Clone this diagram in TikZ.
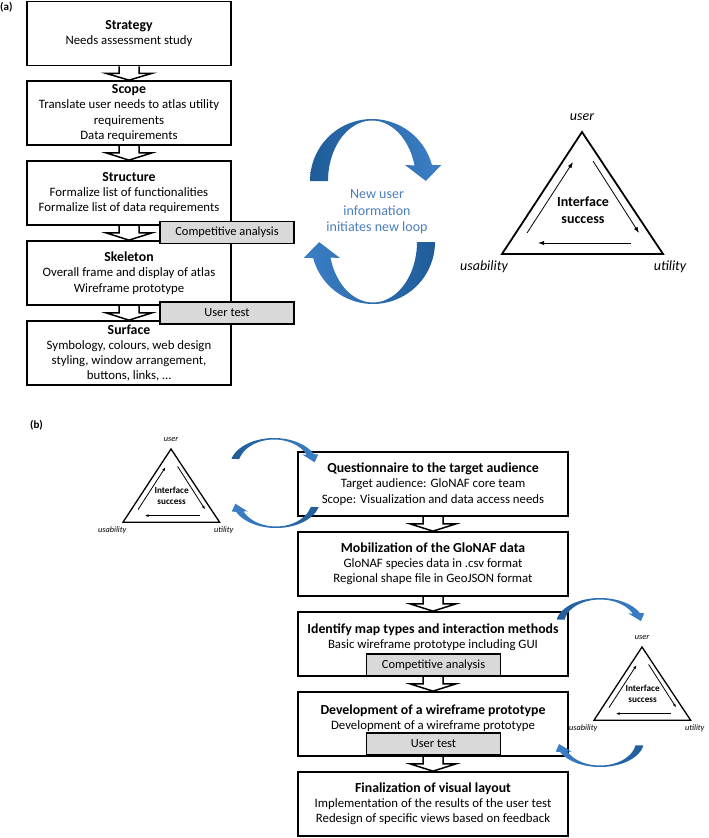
\documentclass[tikz,border=0pt]{standalone}
\usepackage{fontspec}
\setmainfont{Carlito}
\usetikzlibrary{arrows.meta,calc}
\definecolor{grayfill}{HTML}{D9D9D9}
\definecolor{loopblue}{HTML}{4A7EBB}
\definecolor{arrdark}{HTML}{1F5C99}
\definecolor{arrlight}{HTML}{3C7FC6}
\newcommand\boxtitle[1]{{\fontsize{13.8}{15.5}\selectfont\bfseries #1}}
% crescent arrow: cx, cy, rx, ry, thickness, start angle, end angle, head half width, head length
\newcommand\crescarrow[9]{%
 \pgfmathsetmacro\cAx{#1+(#3-#5/2)*cos(#7)}%
 \pgfmathsetmacro\cAy{#2+(#4-0.75)*sin(#7)}%
 \pgfmathsetmacro\cOx{#1+#3*cos(#7)}%
 \pgfmathsetmacro\cIx{#1+(#3-#5)*cos(#7)}%
 \pgfmathsetmacro\cQa{#7+8*sign(#7-#6)}%
 \pgfmathsetmacro\cQx{#1+(#3-#5/2)*cos(\cQa)}%
 \pgfmathsetmacro\cQy{#2+(#4-0.75)*sin(\cQa)}%
 \coordinate (cM) at (\cAx,\cAy);
 \coordinate (cO) at (\cOx,\cAy);
 \coordinate (cI) at (\cIx,\cAy);
 \coordinate (cQ) at (\cQx,\cQy);
 \path[arrowshade] plot[domain=#6:#7,samples=40] ({#1+#3*cos(\x)},{#2+#4*sin(\x)})
   -- ($(cM)!#8!(cO)$) -- ($(cM)!#9!(cQ)$) -- ($(cM)!#8!(cI)$)
   -- plot[domain=#7:#6,samples=40] ({#1+(#3-#5)*cos(\x)},{#2+(#4-1.5)*sin(\x)}) -- cycle;
}
% triangle: x, y (top vertex), scale, label font, centre font, prefix, tip length, line width
\newcommand\uitri[8]{%
 \begin{scope}[shift={(#1,#2)}, scale=#3]
  \coordinate (#6top) at (0,0);
  \coordinate (#6left) at (-80,122);
  \coordinate (#6right) at (81,122);
  \draw[line width=#8, line join=miter] (#6top) -- (#6left) -- (#6right) -- cycle;
  \coordinate (#6a1) at (-55,101); \coordinate (#6a2) at (-9,30);
  \coordinate (#6b1) at (11,29); \coordinate (#6b2) at (57,101);
  \coordinate (#6c1) at (49,111); \coordinate (#6c2) at (-44,111);
  \draw[line width=0.8pt, -{Latex[length=#7,width=0.7*#7]}] (#6a1) -- (#6a2);
  \draw[line width=0.8pt, -{Latex[length=#7,width=0.7*#7]}] (#6b1) -- (#6b2);
  \draw[line width=0.8pt, -{Latex[length=#7,width=0.7*#7]}] (#6c1) -- (#6c2);
  \node[font=#4] (#6user) at (0,-15) {user};
  \node[font=#4] (#6usab) at (-98,135) {usability};
  \node[font=#4] (#6util) at (88,135) {utility};
  \node[font=#5, align=center] (#6succ) at (1,78) {Interface\\success};
 \end{scope}}
\newcommand\blockarrow[2]{%
 \draw[line width=1.5pt, line join=miter] let \p1=(#1.south), \p2=(#2.north) in
  (\x1-10pt,\y1) -- (\x1-10pt,\y1-7pt) -- (\x1-23pt,\y1-7pt) -- (\x1,\y2)
  -- (\x1+23pt,\y1-7pt) -- (\x1+10pt,\y1-7pt) -- (\x1+10pt,\y1);}

\begin{document}
\begin{tikzpicture}[x=1pt,y=-1pt,
  box/.style={draw, line width=1.7pt, fill=white, align=center, inner sep=0pt, font=\fontsize{12.8}{15.2}\selectfont},
  abox/.style={box, minimum width=204pt, minimum height=64pt},
  bbox/.style={box, minimum width=270pt, minimum height=64pt},
  txt/.style={align=center, inner sep=0pt, font=\fontsize{12.8}{15.2}\selectfont},
  gbox/.style={draw, line width=1.6pt, fill=grayfill, inner sep=0pt, minimum width=134pt, minimum height=22pt, font=\fontsize{12.4}{13}\selectfont},
  arrowshade/.style={left color=arrdark, right color=arrlight}
 ]
\useasboundingbox (0,0) rectangle (709,838);

% ---------- (a) ----------
\node[font=\fontsize{11}{12}\selectfont\bfseries, anchor=west, inner sep=0pt] (labA) at (0,7) {(a)};
\node[abox] (strategy) at (129,33.5) {\boxtitle{Strategy}\\Needs assessment study};
\node[abox] (scope) at (129,113) {\boxtitle{Scope}\\Translate user needs to atlas utility\\requirements\\Data requirements};
\node[abox] (structure) at (129,193) {\boxtitle{Structure}\\Formalize list of functionalities\\Formalize list of data requirements};
\node[abox] (skeleton) at (129,273) {\boxtitle{Skeleton}\\Overall frame and display of atlas\\Wireframe prototype};
\node[abox] (surface) at (129,353) {\boxtitle{Surface}\\Symbology, colours, web design\\styling, window arrangement,\\buttons, links, …};
\node[gbox] (comp1) at (227,232.5) {Competitive analysis};
\node[gbox] (utest1) at (227,313) {User test};
\blockarrow{strategy}{scope}
\blockarrow{scope}{structure}
\blockarrow{structure}{skeleton}
\blockarrow{skeleton}{surface}

\crescarrow{372}{181}{62}{62}{18}{180}{345}{18pt}{16pt}
\tikzset{arrowshade/.style={left color=arrlight, right color=arrdark}}
\crescarrow{373}{242}{62}{62}{18}{0}{165}{18pt}{16pt}
\node[align=center, text=loopblue, font=\fontsize{14}{16.5}\selectfont] (looptxt) at (377,212) {New user\\information\\initiates new loop};

\uitri{582}{132}{1}{\fontsize{14}{15}\selectfont\itshape}{\fontsize{14}{17}\selectfont\bfseries}{ta}{6pt}{1.8pt}

% ---------- (b) ----------
\node[font=\fontsize{11}{12}\selectfont\bfseries, inner sep=0pt] (labB) at (36.5,425) {(b)};
\node[bbox] (quest) at (433,484) {\boxtitle{Questionnaire to the target audience}\\Target audience: GloNAF core team\\Scope: Visualization and data access needs};
\node[bbox] (mobil) at (433,564) {\boxtitle{Mobilization of the GloNAF data}\\GloNAF species data in .csv format\\Regional shape file in GeoJSON format};
\node[bbox] (ident) at (433,644) {};
\node[txt] (identT) at (433,637.5) {\boxtitle{Identify map types and interaction methods}\\Basic wireframe prototype including GUI};
\node[gbox] (comp2) at (433.5,665) {Competitive analysis};
\node[bbox] (devel) at (433,724) {};
\node[txt] (develT) at (433,718.5) {\boxtitle{Development of a wireframe prototype}\\Development of a wireframe prototype};
\node[gbox] (utest2) at (433.5,744) {User test};
\node[bbox] (final) at (433,804) {\boxtitle{Finalization of visual layout}\\Implementation of the results of the user test\\Redesign of specific views based on feedback};
\blockarrow{quest}{mobil}
\blockarrow{mobil}{ident}
\blockarrow{ident}{devel}
\blockarrow{devel}{final}

\uitri{171}{449}{0.6}{\fontsize{8.3}{9}\selectfont\itshape}{\fontsize{9.2}{11}\selectfont\bfseries}{tb}{4pt}{1.3pt}
\uitri{642}{647}{0.6}{\fontsize{8.3}{9}\selectfont\itshape}{\fontsize{9.2}{11}\selectfont\bfseries}{tc}{4pt}{1.3pt}

\tikzset{arrowshade/.style={left color=arrdark, right color=arrlight}}
\crescarrow{274}{466}{44}{28}{8}{195}{335}{8pt}{9pt}
\crescarrow{600}{624}{44}{26}{8}{190}{335}{8pt}{9pt}
\tikzset{arrowshade/.style={left color=arrlight, right color=arrdark}}
\crescarrow{276}{500}{44}{28}{8}{15}{155}{8pt}{9pt}
\crescarrow{600}{741}{44}{26}{8}{10}{155}{8pt}{9pt}
\end{tikzpicture}
\end{document}
